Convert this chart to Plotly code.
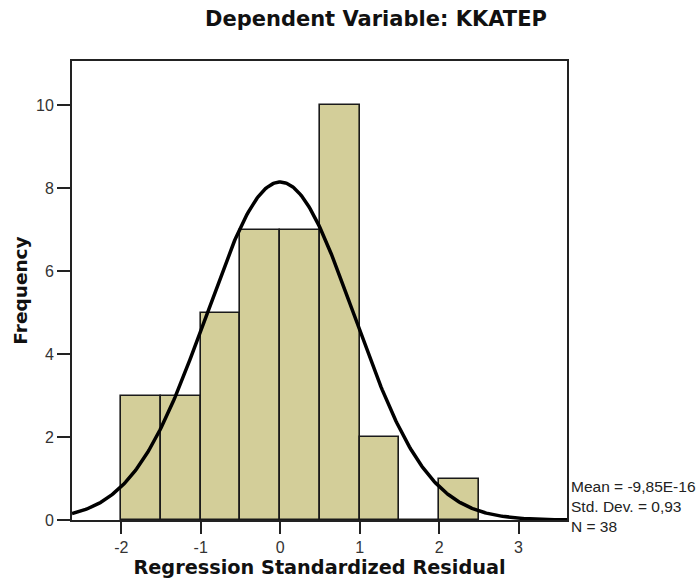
import numpy as np
import plotly.graph_objects as go

# ---- data ----
bin_centers = [-1.75, -1.25, -0.75, -0.25, 0.25, 0.75, 1.25, 1.75, 2.25]
counts = [3, 3, 5, 7, 7, 10, 2, 0, 1]
bin_width = 0.5
stat_mean = -9.85e-16
stat_sd = 0.93
stat_n = 38
x_ticks = [-2, -1, 0, 1, 2, 3]
y_ticks = [0, 2, 4, 6, 8, 10]
title_text = "Dependent Variable: KKATEP"
x_title = "Regression Standardized Residual"
y_title = "Frequency"
stats_lines = ["Mean = -9,85E-16", "Std. Dev. = 0,93", "N = 38"]

x_range = [-2.62, 3.61]
y_range = [0, 11.07]

# normal curve implied by the annotated Mean / Std. Dev. / N
cx = np.linspace(x_range[0], x_range[1], 400)
cy = stat_n * bin_width / (stat_sd * np.sqrt(2 * np.pi)) * np.exp(-0.5 * ((cx - stat_mean) / stat_sd) ** 2)

FONT = "Liberation Sans, Arial, sans-serif"
BOLD = "DejaVu Sans, Verdana, sans-serif"

fig = go.Figure()
fig.add_trace(go.Bar(
    x=bin_centers, y=counts, width=bin_width,
    marker=dict(color="#d3ce99", line=dict(color="#1a1a1a", width=1.6)),
    showlegend=False, hoverinfo="x+y",
))
fig.add_trace(go.Scatter(
    x=cx, y=cy, mode="lines",
    line=dict(color="#000000", width=3.5),
    showlegend=False, hoverinfo="skip",
))

fig.update_layout(
    width=699, height=584,
    margin=dict(l=72, r=132, t=61, b=64),
    paper_bgcolor="white", plot_bgcolor="white",
    bargap=0,
    font=dict(family=FONT, color="#222222", size=16),
    title=dict(text="<b>" + title_text + "</b>", x=205 / 699, xanchor="left",
               y=1 - 19 / 584, yanchor="middle", yref="container",
               font=dict(family=BOLD, size=21, color="#111111")),
    xaxis=dict(
        range=x_range, tickvals=x_ticks, ticktext=[str(v) for v in x_ticks],
        showgrid=False, zeroline=False,
        showline=True, linecolor="#222222", linewidth=2, mirror=True,
        ticks="outside", ticklen=12, tickwidth=1.5, tickcolor="#222222",
        tickfont=dict(size=16, color="#333333"),
        title=dict(text="<b>" + x_title + "</b>", font=dict(family=BOLD, size=19.3, color="#111111"), standoff=2),
    ),
    yaxis=dict(
        range=y_range, tickvals=y_ticks, ticktext=[str(v) for v in y_ticks],
        showgrid=False, zeroline=False,
        showline=True, linecolor="#222222", linewidth=2, mirror=True,
        ticks="outside", ticklen=13, tickwidth=1.5, tickcolor="#222222",
        tickfont=dict(size=16, color="#333333"),
        title=dict(text="<b>" + y_title + "</b>", font=dict(family=BOLD, size=18.5, color="#111111"), standoff=4),
    ),
)

fig.add_annotation(
    text="<br>".join(stats_lines),
    xref="paper", yref="paper",
    x=(569 - 72) / 495, y=(520 - 506) / 459,
    xanchor="left", yanchor="middle", align="left",
    showarrow=False,
    font=dict(family=FONT, size=15.5, color="#222222"),
)

fig.write_html("out.html")
